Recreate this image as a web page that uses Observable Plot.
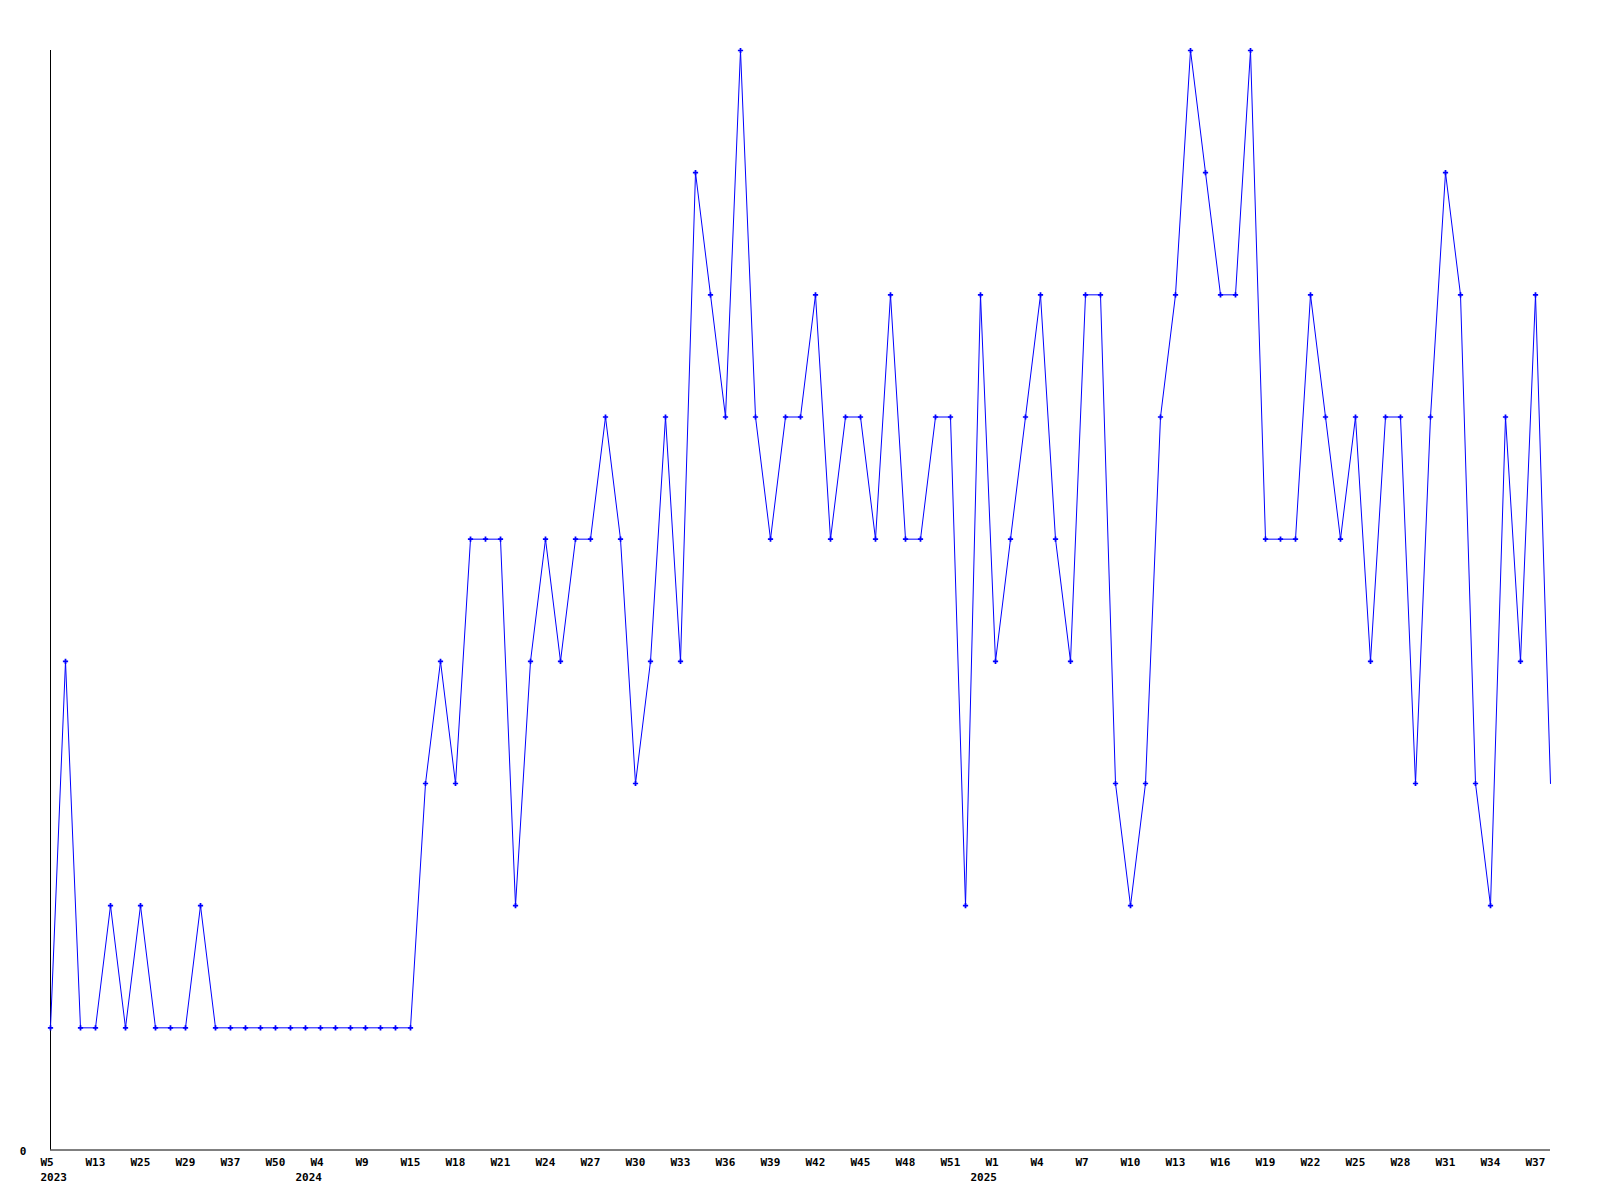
<!DOCTYPE html>
<html>
<head>
<meta charset="utf-8">
<script src="https://cdn.jsdelivr.net/npm/d3@7"></script>
<script src="https://cdn.jsdelivr.net/npm/@observablehq/plot@0.6"></script>
<style>
  html, body { margin: 0; padding: 0; background: #fff; }
  #chart svg { display: block; }
</style>
</head>
<body>
<div id="chart"></div>
<script>
// Weekly counts, one value per point (index 0 = 2023 W5)
const values = [
  1, 4, 1, 1, 2, 1, 2, 1, 1, 1,
  2, 1, 1, 1, 1, 1, 1, 1, 1, 1,
  1, 1, 1, 1, 1, 3, 4, 3, 5, 5,
  5, 2, 4, 5, 4, 5, 5, 6, 5, 3,
  4, 6, 4, 8, 7, 6, 9, 6, 5, 6,
  6, 7, 5, 6, 6, 5, 7, 5, 5, 6,
  6, 2, 7, 4, 5, 6, 7, 5, 4, 7,
  7, 3, 2, 3, 6, 7, 9, 8, 7, 7,
  9, 5, 5, 5, 7, 6, 5, 6, 4, 6,
  6, 3, 6, 8, 7, 3, 2, 6, 4, 7,
  3
];

// X tick positions (point index) and their labels
const tickIndex = [0, 3, 6, 9, 12, 15, 18, 21, 24, 27, 30, 33, 36, 39, 42, 45, 48,
                   51, 54, 57, 60, 63, 66, 69, 72, 75, 78, 81, 84, 87, 90, 93, 96, 99];
const tickLabels = ["W5", "W13", "W25", "W29", "W37", "W50", "W4", "W9", "W15", "W18",
                    "W21", "W24", "W27", "W30", "W33", "W36", "W39", "W42", "W45", "W48",
                    "W51", "W1", "W4", "W7", "W10", "W13", "W16", "W19", "W22", "W25",
                    "W28", "W31", "W34", "W37"];

// Year labels placed under the first tick of each year
const yearTickIndex = [0, 18, 63];
const yearLabels = ["2023", "2024", "2025"];

const yTickValues = [0];
const yTickLabels = ["0"];

const ticks = tickIndex.map((t, i) => ({t, label: tickLabels[i]}));
const years = yearTickIndex.map((t, i) => ({t, label: yearLabels[i], first: i === 0}));
const pts = values.map((v, i) => ({i, v}));

const font = "'DejaVu Sans Mono', monospace";

const chart = Plot.plot({
  width: 1600,
  height: 1200,
  marginLeft: 50,
  marginRight: 50,
  marginTop: 50,
  marginBottom: 50.5,
  style: {background: "#fff", fontFamily: font},
  x: {domain: [0, values.length - 1], axis: null},
  y: {domain: [0, 9], axis: null},
  marks: [
    Plot.ruleX([0], {y1: 0, y2: 9, stroke: "#000", strokeWidth: 1}),
    Plot.ruleY([0], {x1: 0, x2: values.length - 1, stroke: "#000", strokeWidth: 1}),
    Plot.line(pts, {x: "i", y: "v", stroke: "#0000ff", strokeWidth: 1}),
    Plot.dot(pts.slice(0, -1), {x: "i", y: "v", symbol: "cross", r: 2.2, fill: "#0000ff", stroke: "none"}),
    Plot.text(ticks, {x: "t", y: 0, text: "label", textAnchor: "start", dx: -10, dy: 12.5,
      fontSize: 11, fontWeight: "bold", fill: "#000", fontFamily: font}),
    Plot.text(years.filter(d => d.first), {x: "t", y: 0, text: "label", textAnchor: "start", dx: -10, dy: 27.5,
      fontSize: 11, fontWeight: "bold", fill: "#000", fontFamily: font}),
    Plot.text(years.filter(d => !d.first), {x: "t", y: 0, text: "label", textAnchor: "start", dx: -25, dy: 27.5,
      fontSize: 11, fontWeight: "bold", fill: "#000", fontFamily: font}),
    Plot.text(yTickValues.map((v, i) => ({v, label: yTickLabels[i]})), {x: 0, y: "v", text: "label",
      textAnchor: "middle", dx: -27.5, dy: 1, fontSize: 11, fontWeight: "bold", fill: "#000", fontFamily: font})
  ]
});
document.getElementById("chart").appendChild(chart);
</script>
</body>
</html>
